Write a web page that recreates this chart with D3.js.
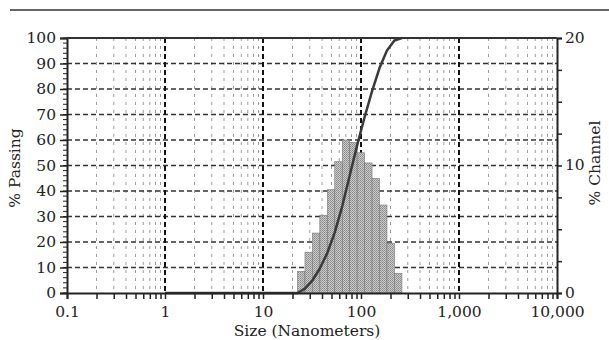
<!DOCTYPE html>
<html>
<head>
<meta charset="utf-8">
<script src="https://cdn.jsdelivr.net/npm/d3@7"></script>
<style>
  body { margin: 0; background: #fff; }
  text { font-family: "DejaVu Serif", serif; fill: #222; }
</style>
</head>
<body>
<svg id="chart" width="609" height="340"></svg>
<script>
// ---------------- Data ----------------
// channel edges (nm), one more than the channel values
const binEdges = [22.5, 26.8, 31.9, 38.0, 45.3, 54.0, 64.4, 76.7, 91.4, 108.9, 129.7, 154.5, 184.1, 219.3, 261.8];
// % Channel for each bin
const channelPct = [1.7, 3.2, 4.7, 6.1, 8.1, 10.3, 12.0, 11.8, 11.0, 10.2, 9.0, 6.9, 3.9, 1.55];
// % Passing (cumulative) at sizes
const passSizes = [1, 22.5, 26.8, 31.9, 38.0, 45.3, 54.0, 64.4, 76.7, 91.4, 108.9, 129.7, 154.5, 184.1, 219.3, 261.8];
const passPct   = [0, 0, 1.7, 4.9, 9.6, 15.7, 23.8, 34.1, 46.1, 58.0, 69.0, 79.2, 88.2, 95.1, 99.0, 100];

const xTicks = [0.1, 1, 10, 100, 1000, 10000];
const leftTicks = [0, 10, 20, 30, 40, 50, 60, 70, 80, 90, 100];
const rightTicks = [0, 10, 20];

const svg = d3.select("#chart");
const L = 67, R = 557, T = 38, B = 293;
const fs = "15.5px";

const x = d3.scaleLog().domain([0.1, 10000]).range([L, R]);
const yL = d3.scaleLinear().domain([0, 100]).range([B, T]);
const yR = d3.scaleLinear().domain([0, 20]).range([B, T]);

// stipple fill for bars
const defs = svg.append("defs");
const pat = defs.append("pattern")
  .attr("id", "dots").attr("width", 2).attr("height", 2)
  .attr("patternUnits", "userSpaceOnUse");
pat.append("rect").attr("width", 2).attr("height", 2).attr("fill", "#cbcbcb");
pat.append("rect").attr("width", 1).attr("height", 1).attr("fill", "#888");
pat.append("rect").attr("x", 1).attr("y", 1).attr("width", 1).attr("height", 1).attr("fill", "#999");

// top rule of the figure
svg.append("line")
  .attr("x1", 10).attr("x2", 609).attr("y1", 10).attr("y2", 10)
  .attr("stroke", "#333").attr("stroke-width", 1.5);

// minor vertical grid (2..9 in each decade)
const minor = [];
for (let d = 0.1; d < 10000; d *= 10) {
  for (let k = 2; k <= 9; k++) minor.push(+(d * k).toPrecision(3));
}
const majorX = [1, 10, 100, 1000];

const grid = svg.append("g");
grid.selectAll(".mv").data(minor).enter().append("line")
  .attr("x1", d => x(d)).attr("x2", d => x(d))
  .attr("y1", T).attr("y2", B)
  .attr("stroke", "#999").attr("stroke-width", 1)
  .attr("stroke-dasharray", "3,5");

grid.selectAll(".hz").data(leftTicks.slice(1, -1)).enter().append("line")
  .attr("x1", L).attr("x2", R)
  .attr("y1", d => yL(d)).attr("y2", d => yL(d))
  .attr("stroke", "#333").attr("stroke-width", 1.5)
  .attr("stroke-dasharray", "5,3");

grid.selectAll(".mj").data(majorX).enter().append("line")
  .attr("x1", d => x(d)).attr("x2", d => x(d))
  .attr("y1", T).attr("y2", B)
  .attr("stroke", "#111").attr("stroke-width", 2)
  .attr("stroke-dasharray", "5,3");

// histogram bars
svg.append("g").selectAll("rect").data(channelPct).enter().append("rect")
  .attr("x", (d, i) => x(binEdges[i]))
  .attr("width", (d, i) => x(binEdges[i + 1]) - x(binEdges[i]))
  .attr("y", d => yR(d))
  .attr("height", d => B - yR(d))
  .attr("fill", "url(#dots)")
  .attr("stroke", "#777").attr("stroke-width", 0.6);

// cumulative curve
const line = d3.line()
  .x((d, i) => x(passSizes[i]))
  .y(d => yL(d));
svg.append("path").datum(passPct)
  .attr("d", line)
  .attr("fill", "none")
  .attr("stroke", "#3a3a3a").attr("stroke-width", 2.5)
  .attr("stroke-linejoin", "round");

// axes
const xAxis = d3.axisBottom(x)
  .tickValues(xTicks.concat(minor))
  .tickSize(6)
  .tickFormat(d => xTicks.includes(d) ? (d < 1 ? "0.1" : d3.format(",")(d)) : "");
const gx = svg.append("g").attr("transform", `translate(0,${B})`).call(xAxis);

const leftMinor = d3.range(0, 101, 2);
const gl = svg.append("g").attr("transform", `translate(${L},0)`)
  .call(d3.axisLeft(yL).tickValues(leftTicks).tickSize(7));
gl.append("g").selectAll("line").data(leftMinor).enter().append("line")
  .attr("x1", -4).attr("x2", 0)
  .attr("y1", d => yL(d)).attr("y2", d => yL(d))
  .attr("stroke", "#222");

const gr = svg.append("g").attr("transform", `translate(${R},0)`)
  .call(d3.axisRight(yR).tickValues(d3.range(0, 20.1, 2.5)).tickSize(5)
    .tickFormat(d => rightTicks.includes(d) ? d : ""));

[gx, gl, gr].forEach(g => {
  g.select(".domain").attr("stroke", "#222").attr("stroke-width", 2);
  g.selectAll(".tick line").attr("stroke", "#222").attr("stroke-width", 1.5);
  g.selectAll(".tick text").style("font-family", "DejaVu Serif").style("font-size", fs).attr("fill", "#222");
});
gx.selectAll(".tick text").attr("dy", "0.95em");
gl.selectAll(".tick text").attr("dx", "-1px");
gr.selectAll(".tick text").attr("dy", "0.28em");

// top frame line
svg.append("line")
  .attr("x1", L).attr("x2", R).attr("y1", T).attr("y2", T)
  .attr("stroke", "#333").attr("stroke-width", 2);

// titles
svg.append("text")
  .attr("x", (L + R) / 2 - 5).attr("y", 336)
  .attr("text-anchor", "middle").style("font-size", fs)
  .text("Size (Nanometers)");
svg.append("text")
  .attr("transform", "translate(20,168) rotate(-90)")
  .attr("text-anchor", "middle").style("font-size", fs)
  .text("% Passing");
svg.append("text")
  .attr("transform", "translate(600,163) rotate(-90)")
  .attr("text-anchor", "middle").style("font-size", fs)
  .text("% Channel");
</script>
</body>
</html>
